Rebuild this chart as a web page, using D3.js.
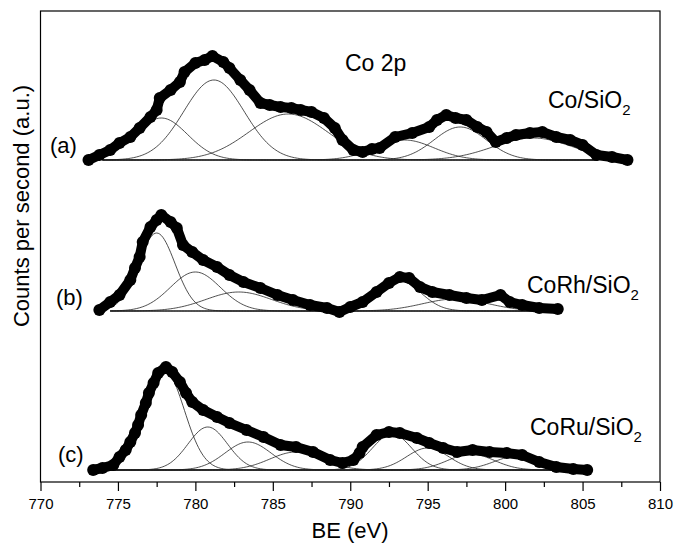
<!DOCTYPE html>
<html>
<head>
<meta charset="utf-8">
<script src="https://cdn.jsdelivr.net/npm/d3@7"></script>
<style>
  body { margin: 0; background: #fff; }
  svg text { font-family: "Liberation Sans", Arial, sans-serif; fill: #000; }
</style>
</head>
<body>
<div id="chart"></div>
<script>
// binding energy (eV) and measured counts above each spectrum's own baseline (a.u.)
const seriesA = [
  [773.1, 0], [773.8, 5], [774.5, 10], [775.1, 17], [775.8, 23], [776.4, 32],
  [777.1, 43], [777.5, 50], [777.7, 62], [778.4, 70], [779.0, 78], [779.3, 88],
  [780.0, 97], [780.6, 100], [781.1, 104], [781.8, 98], [782.2, 92], [782.9, 80],
  [783.5, 70], [784.2, 57], [784.8, 55], [785.5, 53], [786.2, 52], [786.8, 50],
  [787.5, 48], [788.3, 42], [789.0, 32], [789.5, 20], [790.2, 10], [790.8, 8],
  [791.4, 11], [791.9, 12], [792.9, 23], [794.0, 27], [795.1, 33], [795.6, 40],
  [796.2, 45], [796.8, 42], [797.5, 40], [798.2, 33], [798.8, 28], [799.4, 18],
  [800.1, 22], [800.7, 25], [801.6, 27], [802.4, 28], [803.3, 23], [804.2, 20],
  [805.0, 15], [805.9, 5], [806.9, 3], [807.9, 0]
];
const seriesB = [
  [773.8, 1], [774.5, 9], [775.1, 16], [775.8, 31], [776.1, 43], [776.4, 54],
  [776.6, 69], [777.1, 84], [777.5, 91], [777.8, 96], [778.4, 89], [778.8, 83],
  [779.2, 66], [779.8, 59], [780.5, 51], [781.4, 44], [782.2, 36], [783.1, 29],
  [784.2, 23], [785.3, 16], [786.3, 11], [787.4, 6], [788.5, 3], [789.3, -1],
  [790.0, 4], [790.8, 9], [791.7, 19], [792.5, 28], [793.2, 34], [793.8, 33],
  [794.5, 24], [795.3, 19], [796.4, 16], [797.5, 13], [798.5, 11], [799.7, 16],
  [800.3, 9], [801.1, 6], [802.2, 3], [803.4, 2]
];
const seriesC = [
  [773.4, 0], [774.0, 2], [774.7, 5], [775.1, 13], [775.5, 20], [775.8, 28],
  [776.1, 37], [776.3, 45], [776.5, 55], [776.8, 67], [777.0, 77], [777.3, 87],
  [777.6, 97], [778.1, 103], [778.5, 98], [779.0, 88], [779.4, 77], [779.8, 68],
  [780.5, 60], [781.4, 53], [782.2, 47], [783.3, 40], [784.4, 33], [785.5, 25],
  [786.5, 23], [787.6, 18], [788.7, 10], [789.5, 7], [790.2, 10], [790.6, 17],
  [790.8, 23], [791.7, 35], [792.5, 38], [793.2, 37], [794.3, 32], [795.1, 27],
  [796.0, 22], [796.9, 18], [797.9, 20], [799.0, 18], [800.1, 17], [801.1, 15],
  [802.2, 8], [803.3, 3], [804.4, 1], [805.3, 0]
];

// fitted components: [centre eV, height, FWHM eV]
const peaksA = [[777.8, 42, 4.0], [781.2, 80, 4.6], [786.0, 46, 6.0], [793.5, 20, 4.5], [797.1, 33, 4.0], [801.8, 22, 6.0]];
const peaksB = [[777.5, 78, 2.8], [780.0, 39, 3.8], [782.8, 19, 5.0], [793.2, 30, 3.2], [796.8, 12, 5.0]];
const peaksC = [[778.0, 100, 3.0], [780.8, 43, 3.0], [783.4, 28, 3.5], [786.5, 18, 4.0], [792.7, 36, 3.0], [795.0, 22, 3.2], [797.8, 16, 3.5], [800.8, 14, 3.5]];

// fit ranges (eV) and vertical offsets of the stacked spectra
const fitRanges = [[774.0, 806.0], [774.5, 803.0], [774.5, 805.0]];
const offsets = [322, 171, 12];
const sampleNames = ["Co/SiO", "CoRh/SiO", "CoRu/SiO"];
const letters = ["(a)", "(b)", "(c)"];
const majorTicks = [770, 775, 780, 785, 790, 795, 800, 805, 810];
const minorTicks = [772.5, 777.5, 782.5, 787.5, 792.5, 797.5, 802.5, 807.5];

const W = 675, H = 547;
const margin = {left: 40.5, right: 15, top: 11, bottom: 65};

const svg = d3.select("#chart").append("svg")
  .attr("width", W).attr("height", H);

const x = d3.scaleLinear().domain([770, 810]).range([margin.left, W - margin.right]);
const y = d3.scaleLinear().domain([0, 471]).range([H - margin.bottom, margin.top]);

const spectra = [
  {data: seriesA, peaks: peaksA, fit: fitRanges[0], off: offsets[0], name: sampleNames[0], letter: letters[0]},
  {data: seriesB, peaks: peaksB, fit: fitRanges[1], off: offsets[1], name: sampleNames[1], letter: letters[1]},
  {data: seriesC, peaks: peaksC, fit: fitRanges[2], off: offsets[2], name: sampleNames[2], letter: letters[2]}
];

const line = d3.line().x(d => x(d[0])).y(d => y(d[1]));

spectra.forEach(s => {
  const g = svg.append("g");
  const be = d3.range(s.fit[0], s.fit[1] + 0.001, 0.1);

  // component peaks
  s.peaks.forEach(p => {
    const sig = p[2] / 2.3548;
    const pts = be.map(e => [e, s.off + p[1] * Math.exp(-(e - p[0]) * (e - p[0]) / (2 * sig * sig))]);
    g.append("path").attr("d", line(pts))
      .attr("fill", "none").attr("stroke", "#222").attr("stroke-width", 0.8);
  });

  // baseline
  g.append("path").attr("d", line([[s.fit[0], s.off], [s.fit[1], s.off]]))
    .attr("fill", "none").attr("stroke", "#222").attr("stroke-width", 0.8);

  // measured points
  const pts = s.data.map(d => [d[0], d[1] + s.off]);
  g.append("path").attr("d", line(pts))
    .attr("fill", "none").attr("stroke", "#000").attr("stroke-width", 10)
    .attr("stroke-linejoin", "round").attr("stroke-linecap", "round");
  g.selectAll("circle").data(pts).enter().append("circle")
    .attr("cx", d => x(d[0])).attr("cy", d => y(d[1])).attr("r", 6).attr("fill", "#000");
});

// frame
svg.append("rect")
  .attr("x", margin.left).attr("y", margin.top)
  .attr("width", W - margin.right - margin.left)
  .attr("height", H - margin.bottom - margin.top)
  .attr("fill", "none").attr("stroke", "#000").attr("stroke-width", 1.2);

// x axis
const gMinor = svg.append("g").attr("transform", `translate(0,${H - margin.bottom})`)
  .call(d3.axisBottom(x).tickValues(minorTicks).tickSize(5).tickFormat(""));
const gMajor = svg.append("g").attr("transform", `translate(0,${H - margin.bottom})`)
  .call(d3.axisBottom(x).tickValues(majorTicks).tickSize(9).tickPadding(7).tickFormat(d3.format("d")));
[gMinor, gMajor].forEach(g => {
  g.select(".domain").remove();
  g.selectAll("line").attr("stroke", "#000").attr("stroke-width", 1.2);
});
gMajor.selectAll("text").attr("font-size", 15)
  .style("font-family", "Liberation Sans, Arial, sans-serif");

svg.append("text").attr("x", 350).attr("y", 538)
  .attr("text-anchor", "middle").attr("font-size", 22).text("BE (eV)");

svg.append("text").attr("transform", "translate(29,206) rotate(-90)")
  .attr("text-anchor", "middle").attr("font-size", 22).text("Counts per second (a.u.)");

svg.append("text").attr("x", 345).attr("y", 71).attr("font-size", 23).text("Co 2p");

// letters and sample names
const letterPos = [[50, 153], [56, 305], [58, 462]];
const namePos = [[548, 108], [527, 293], [530, 435]];
spectra.forEach((s, i) => {
  svg.append("text").attr("x", letterPos[i][0]).attr("y", letterPos[i][1])
    .attr("font-size", 22).text(s.letter);
  const t = svg.append("text").attr("x", namePos[i][0]).attr("y", namePos[i][1])
    .attr("font-size", 23);
  t.append("tspan").text(s.name);
  t.append("tspan").attr("font-size", 15).attr("dy", 7).text("2");
});
</script>
</body>
</html>
